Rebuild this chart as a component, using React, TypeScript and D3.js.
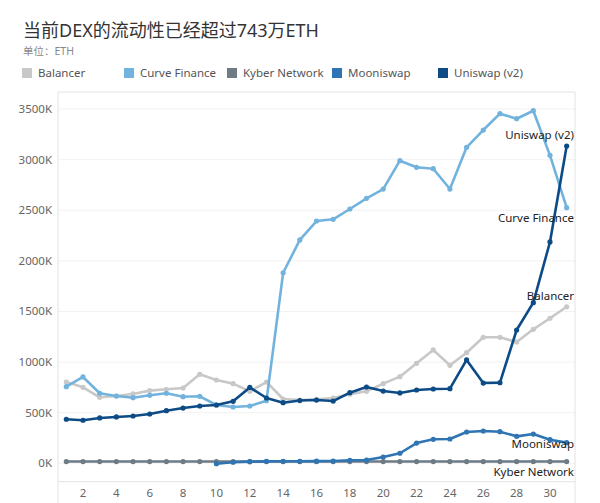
import React from "react";
import * as d3 from "d3";

// values in K ETH, day 1..31
const days = d3.range(1, 32);
const balancer = [803, 751, 652, 665, 685, 718, 731, 744, 879, 823, 787, 711, 803, 635, 625, 632, 645, 682, 711, 787, 856, 988, 1120, 968, 1093, 1245, 1245, 1199, 1324, 1433, 1547];
const curve = [757, 853, 692, 665, 648, 672, 692, 658, 662, 576, 556, 566, 619, 1883, 2207, 2394, 2411, 2513, 2618, 2710, 2990, 2925, 2911, 2710, 3122, 3293, 3455, 3405, 3484, 3043, 2526];
const kyber = [17, 17, 17, 17, 17, 17, 17, 17, 17, 17, 17, 17, 17, 17, 17, 17, 17, 17, 17, 17, 17, 17, 17, 17, 17, 17, 17, 17, 17, 17, 17];
const mooniswap = [null, null, null, null, null, null, null, null, null, -4, 10, 16, 19, 20, 20, 21, 22, 30, 32, 62, 99, 200, 237, 240, 309, 319, 312, 266, 289, 233, 204];
const uniswap = [435, 425, 448, 458, 467, 487, 520, 546, 566, 576, 612, 750, 645, 599, 620, 625, 615, 698, 754, 714, 695, 724, 734, 737, 1021, 793, 797, 1317, 1587, 2187, 3135];

const seriesNames = ["Balancer", "Curve Finance", "Kyber Network", "Mooniswap", "Uniswap (v2)"];
const seriesColors = ["#c8c8c8", "#72b3de", "#6e7a84", "#2f74b3", "#0c4b85"];
const seriesData = [balancer, curve, kyber, mooniswap, uniswap];
const yTicks = [0, 500, 1000, 1500, 2000, 2500, 3000, 3500];
const xTicks = [2, 4, 6, 8, 10, 12, 14, 16, 18, 20, 22, 24, 26, 28, 30];
// label positions at the end of each line (value in K where label sits)
const labelValues = [1650, 2420, -90, 190, 3240];

const font = "'Noto Sans', 'Noto Sans CJK SC', sans-serif";

export default function App() {
  const left = 58, right = 575, top = 92, bottom = 481.7;
  const x = d3.scaleLinear().domain([0.5, 31.5]).range([left, right]);
  const y = d3.scaleLinear().domain([-182, 3669]).range([bottom, top]);

  const line = d3
    .line<number | null>()
    .defined(d => d !== null)
    .x((d, i) => x(days[i]))
    .y(d => y(d as number));

  const legendX = [22, 124, 227, 332, 438];

  return (
    <svg width={600} height={503} style={{ position: "absolute", left: 0, top: 0, background: "#fff" }}>
      <text x={23} y={37} fontSize={18} fill="#333" fontFamily={font}>当前DEX的流动性已经超过743万ETH</text>
      <text x={23} y={55} fontSize={10.5} fill="#888" fontFamily={font}>单位：ETH</text>

      {seriesNames.map((n, i) => (
        <g key={n}>
          <rect x={legendX[i]} y={68} width={10} height={10} fill={seriesColors[i]} />
          <text x={legendX[i] + 16} y={77} fontSize={11.5} fill="#555" fontFamily={font}>{n}</text>
        </g>
      ))}

      {yTicks.map(t => (
        <g key={t}>
          <line x1={left} x2={right} y1={y(t)} y2={y(t)} stroke="#f2f2f2" />
          <text x={52} y={y(t) + 4} textAnchor="end" fontSize={11.5} fill="#666" fontFamily={font}>{t}K</text>
        </g>
      ))}

      <line x1={left} x2={left} y1={top} y2={503} stroke="#e3e3e3" />
      <line x1={right} x2={right} y1={top} y2={503} stroke="#e3e3e3" />
      <line x1={left} x2={right} y1={top} y2={top} stroke="#e3e3e3" />
      <line x1={left} x2={right} y1={bottom} y2={bottom} stroke="#e3e3e3" />

      {xTicks.map(t => (
        <text key={t} x={x(t)} y={497} textAnchor="middle" fontSize={11.5} fill="#666" fontFamily={font}>{t}</text>
      ))}

      {seriesData.map((d, i) => (
        <g key={seriesNames[i]}>
          <path d={line(d) || ""} fill="none" stroke={seriesColors[i]} strokeWidth={2.6} strokeLinejoin="round" />
          {d.map((v, j) =>
            v === null ? null : (
              <circle key={j} cx={x(days[j])} cy={y(v)} r={2.6} fill={seriesColors[i]} />
            )
          )}
        </g>
      ))}

      {seriesNames.map((n, i) => (
        <text key={n} x={574} y={y(labelValues[i]) + 4} textAnchor="end" fontSize={11.5} fill="#222" fontFamily={font}>{n}</text>
      ))}
    </svg>
  );
}
